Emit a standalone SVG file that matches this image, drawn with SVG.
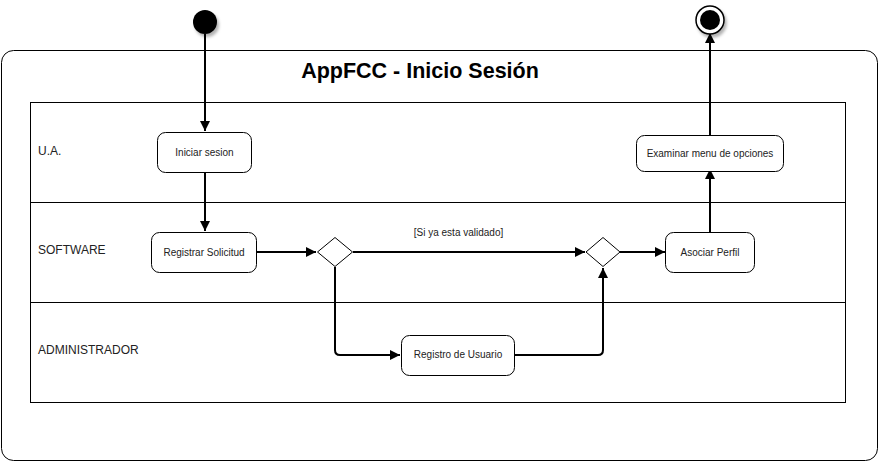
<svg xmlns="http://www.w3.org/2000/svg" width="880" height="462" viewBox="0 0 880 462">
<style>
.box{fill:#fff;stroke:#000;stroke-width:1}
.lane{fill:none;stroke:#000;stroke-width:1}
.t{font-family:"Liberation Sans",Arial,sans-serif;font-size:10px;fill:#222;text-anchor:middle}
.lbl{font-family:"Liberation Sans",Arial,sans-serif;font-size:12px;fill:#222}
.edge{fill:none;stroke:#000;stroke-width:2;stroke-linejoin:round}
</style>
<defs>
<marker id="arr" viewBox="0 0 10 10" refX="10" refY="5" markerWidth="5" markerHeight="5" orient="auto" markerUnits="strokeWidth">
<path d="M0,0 L10,5 L0,10 Z" fill="#000"/>
</marker>
<filter id="sh" x="-50%" y="-50%" width="200%" height="200%">
<feDropShadow dx="2" dy="3" stdDeviation="1.5" flood-color="#000" flood-opacity="0.3"/>
</filter>
</defs>
<g id="frame">
<rect x="1.5" y="50.5" width="876" height="410" rx="12" ry="12" class="lane"/>
<text x="420" y="78" style="font-family:'Liberation Sans',Arial,sans-serif;font-size:21.5px;font-weight:bold;text-anchor:middle">AppFCC - Inicio Sesión</text>
</g>
<g id="lanes">
<rect x="30.5" y="102.5" width="815" height="300" class="lane"/>
<line x1="30.5" y1="202.5" x2="845.5" y2="202.5" stroke="#000"/>
<line x1="30.5" y1="302.5" x2="845.5" y2="302.5" stroke="#000"/>
<text x="38" y="155" class="lbl">U.A.</text>
<text x="38" y="254" class="lbl">SOFTWARE</text>
<text x="38" y="354" class="lbl">ADMINISTRADOR</text>
</g>
<g id="connectors">
<path d="M205,34 V131" class="edge" marker-end="url(#arr)"/>
<path d="M205,172 V231" class="edge" marker-end="url(#arr)"/>
<path d="M257,252 H316" class="edge" marker-end="url(#arr)"/>
<path d="M353,252 H585" class="edge" marker-end="url(#arr)"/>
<path d="M335,267 V350 Q335,355 340,355 H400" class="edge" marker-end="url(#arr)"/>
<path d="M514,355 H598 Q603,355 603,350 V268" class="edge" marker-end="url(#arr)"/>
<path d="M620,252 H665" class="edge" marker-end="url(#arr)"/>
<path d="M710,232 V169" class="edge" marker-end="url(#arr)"/>
<path d="M710,135 V33" class="edge" marker-end="url(#arr)"/>
<text x="458.5" y="236" class="t">[Si ya esta validado]</text>
</g>
<g id="start">
<circle cx="205" cy="22" r="12" fill="#000" filter="url(#sh)"/>
</g>
<g id="end">
<circle cx="710" cy="20" r="14" fill="#fff" stroke="#000" stroke-width="1.5" filter="url(#sh)"/>
<circle cx="710" cy="20" r="10" fill="#000"/>
</g>
<g id="iniciar">
<rect x="157.5" y="132.5" width="94" height="40" rx="8" class="box"/>
<text x="204.5" y="156" class="t">Iniciar sesion</text>
</g>
<g id="registrar">
<rect x="151.5" y="232.5" width="105" height="40" rx="8" class="box"/>
<text x="204" y="256" class="t">Registrar Solicitud</text>
</g>
<g id="decision1">
<path d="M335,237.5 L352.5,252 L335,266.5 L317.5,252 Z" class="box"/>
</g>
<g id="merge">
<path d="M603,237.5 L620,252 L603,266.5 L586,252 Z" class="box"/>
</g>
<g id="asociar">
<rect x="665.5" y="232.5" width="89" height="40" rx="8" class="box"/>
<text x="710" y="256" class="t">Asociar Perfil</text>
</g>
<g id="examinar">
<rect x="636.5" y="135.5" width="147" height="36" rx="8" class="box"/>
<text x="710" y="157" class="t">Examinar menu de opciones</text>
</g>
<g id="registro">
<rect x="401.5" y="335.5" width="113" height="40" rx="8" class="box"/>
<text x="458" y="358" class="t">Registro de Usuario</text>
</g>
</svg>
